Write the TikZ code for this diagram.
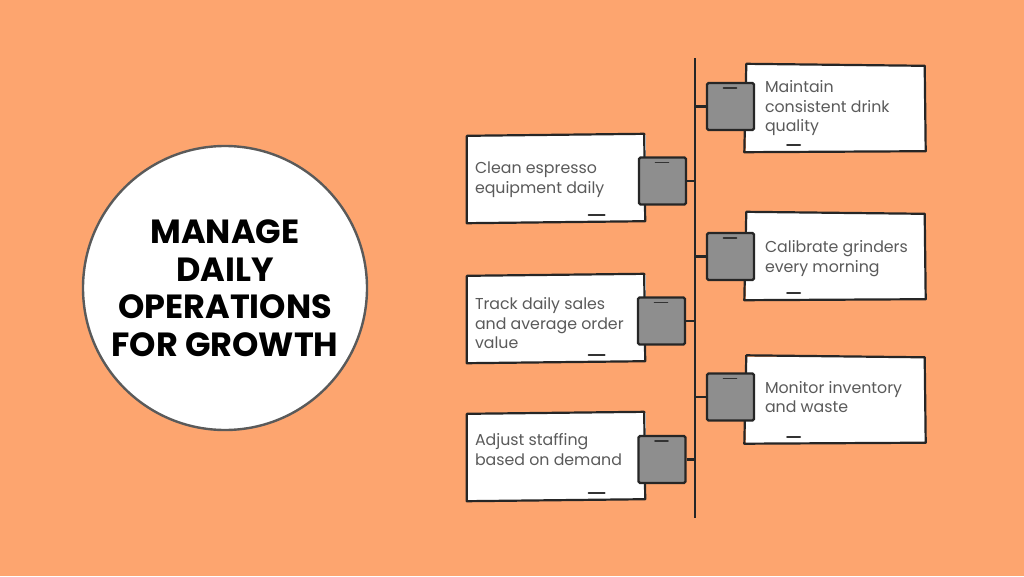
\documentclass[tikz,border=0pt]{standalone}
\usepackage{fontspec}
\setmainfont{Poppins}
\definecolor{bg}{HTML}{FDA56F}
\definecolor{txtgray}{HTML}{5A5A5A}
\definecolor{sqgray}{HTML}{8E8E8E}
\definecolor{ringgray}{HTML}{5A5A5A}
\tikzset{
  card/.style={fill=white, minimum width=179pt, minimum height=87pt, inner sep=0pt},
  cardline/.style={draw=black!85, line width=2.2pt, line join=round},
  txt/.style={anchor=west, align=left, inner sep=0pt, font=\fontsize{15.8}{19.5}\selectfont, text=txtgray},
  tab/.style={draw=black!85, fill=sqgray, line width=2.4pt, minimum width=47pt, minimum height=47pt,
    rounded corners=1.5pt, inner sep=0pt},
  link/.style={draw=black!85, line width=2.2pt},
  tick/.style={draw=black!80, line width=2pt, line cap=round},
}
\begin{document}
\begin{tikzpicture}[x=1pt,y=-1pt]
\fill[bg] (0,0) rectangle (1024,576);
\useasboundingbox (0,0) rectangle (1024,576);
% central circle
\node[circle, draw=ringgray, fill=white, line width=2.4pt, minimum size=284pt, inner sep=0pt,
  align=center, font=\fontsize{33.5}{37.5}\selectfont\bfseries] (title) at (225,288)
  {MANAGE\\DAILY\\OPERATIONS\\FOR GROWTH};
% spine
\coordinate (top) at (695,58);
\coordinate (bot) at (695,518);
\draw[link] (top) -- (bot);
% cards
\node[card] (L1) at (556.5,178.5) {};
\node[card] (L2) at (556.5,318.5) {};
\node[card] (L3) at (556.5,456.5) {};
\node[card] (R1) at (835,108.5) {};
\node[card] (R2) at (835,256.5) {};
\node[card] (R3) at (835,400) {};
\foreach \c in {L1,L2,L3}{
  \draw[cardline] ([shift={(0,1)}]\c.north west) -- ([shift={(-2,-1)}]\c.north east)
    -- ([shift={(-1,-1)}]\c.south east) -- ([shift={(0,1)}]\c.south west) -- cycle;}
\foreach \c in {R1,R2,R3}{
  \draw[cardline] ([shift={(1,-1)}]\c.north west) -- ([shift={(0,1)}]\c.north east)
    -- ([shift={(1,-1)}]\c.south east) -- ([shift={(-1,0)}]\c.south west) -- cycle;}
% texts
\node[txt] (L1t) at ([xshift=8pt,yshift=-1pt]L1.west) {Clean espresso\\equipment daily};
\node[txt] (L2t) at ([xshift=8pt,yshift=-5pt]L2.west) {Track daily sales\\and average order\\value};
\node[txt] (L3t) at ([xshift=8pt,yshift=7pt]L3.west) {Adjust staffing\\based on demand};
\node[txt] (R1t) at ([xshift=19.5pt,yshift=0pt]R1.west) {Maintain\\consistent drink\\quality};
\node[txt] (R2t) at ([xshift=19.5pt,yshift=-2pt]R2.west) {Calibrate grinders\\every morning};
\node[txt] (R3t) at ([xshift=19.5pt,yshift=3pt]R3.west) {Monitor inventory\\and waste};
% tabs
\node[tab] (TL1) at (662.5,181) {};
\node[tab] (TL2) at (661.5,321) {};
\node[tab] (TL3) at (662,459.5) {};
\node[tab] (TR1) at (730.5,106.5) {};
\node[tab] (TR2) at (730.5,256.5) {};
\node[tab] (TR3) at (730.5,397) {};
% connectors
\foreach \t in {TL1,TL2,TL3}{\draw[link] (\t.east) -- (\t.east -| top);}
\foreach \t in {TR1,TR2,TR3}{\draw[link] (\t.west) -- (\t.west -| top);}
% sketch ticks
\foreach \c in {L1,L2,L3}{\draw[tick] ([xshift=32pt,yshift=7pt]\c.south) -- ([xshift=48pt,yshift=7pt]\c.south);}
\foreach \c in {R1,R2,R3}{\draw[tick] ([xshift=-48pt,yshift=7pt]\c.south) -- ([xshift=-35pt,yshift=7pt]\c.south);}
\foreach \t in {TL1,TL2,TL3,TR1,TR2,TR3}{\draw[tick, line width=1.6pt] ([xshift=-7pt,yshift=-6pt]\t.north) -- ([xshift=6pt,yshift=-6pt]\t.north);}
\end{tikzpicture}
\end{document}
